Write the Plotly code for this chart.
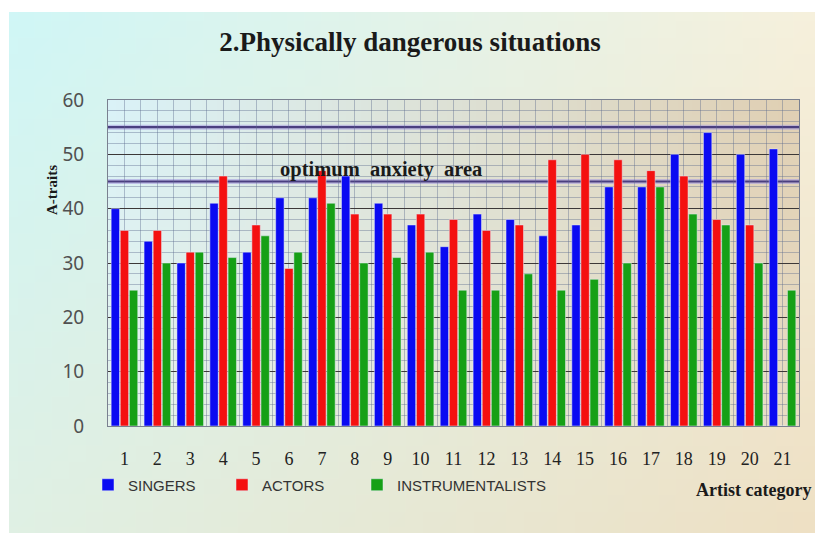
import base64, struct, zlib
import plotly.graph_objects as go

categories = list(range(1, 22))
singers = [40, 34, 30, 41, 32, 42, 42, 46, 41, 37, 33, 39, 38, 35, 37, 44, 44, 50, 54, 50, 51]
actors = [36, 36, 32, 46, 37, 29, 47, 39, 39, 39, 38, 36, 37, 49, 50, 49, 47, 46, 38, 37, 0]
instrumentalists = [25, 30, 32, 31, 35, 32, 41, 30, 31, 32, 25, 25, 28, 25, 27, 30, 44, 39, 37, 30, 25]
optimum_low, optimum_high = 45, 55

# page body has an 8px margin: figure pixel = screen pixel - 8
OFF = 8
W, H = 807, 525
L, R, T, B = 100, 16, 92, 107
PW, PH = W - L - R, H - T - B


def gradient_uri(w, h, tl, tr, bl, br):
    raw = bytearray()
    for j in range(h):
        raw.append(0)
        fy = j / (h - 1)
        for i in range(w):
            fx = i / (w - 1)
            for c in range(3):
                top = tl[c] * (1 - fx) + tr[c] * fx
                bot = bl[c] * (1 - fx) + br[c] * fx
                raw.append(int(round(top * (1 - fy) + bot * fy)))

    def chunk(tag, data):
        return struct.pack('>I', len(data)) + tag + data + struct.pack('>I', zlib.crc32(tag + data) & 0xffffffff)

    png = (b'\x89PNG\r\n\x1a\n' + chunk(b'IHDR', struct.pack('>IIBBBBB', w, h, 8, 2, 0, 0, 0))
           + chunk(b'IDAT', zlib.compress(bytes(raw))) + chunk(b'IEND', b''))
    return 'data:image/png;base64,' + base64.b64encode(png).decode()


def px_x(p):
    return (p - OFF - L) / PW


def px_y(p):
    return (H - B - (p - OFF)) / PH


page_img = gradient_uri(48, 32, (208, 246, 246), (246, 240, 220), (224, 240, 228), (238, 224, 196))
plot_img = gradient_uri(48, 32, (218, 242, 247), (224, 208, 180), (228, 242, 236), (232, 220, 196))

fig = go.Figure()
fig.add_trace(go.Bar(x=categories, y=singers, name='SINGERS', marker_color='#0a0af2',
                     legend='legend', showlegend=True))
fig.add_trace(go.Bar(x=categories, y=actors, name='ACTORS', marker_color='#f41010',
                     legend='legend2', showlegend=True))
fig.add_trace(go.Bar(x=categories, y=instrumentalists, name='INSTRUMENTALISTS', marker_color='#16a016',
                     legend='legend3', showlegend=True))

for v in (optimum_low, optimum_high):
    fig.add_shape(type='line', xref='paper', x0=0, x1=1, yref='y', y0=v, y1=v,
                  line=dict(color='rgba(170,160,225,0.6)', width=5), layer='between')
    fig.add_shape(type='line', xref='paper', x0=0, x1=1, yref='y', y0=v, y1=v,
                  line=dict(color='#4a3f80', width=2.2), layer='between')

grid_light = 'rgba(90,105,140,0.40)'
legend_font = dict(family='Liberation Sans, Arial, sans-serif', size=15, color='#333')


def legend_at(ref_left):
    return dict(orientation='h', x=px_x(ref_left), xanchor='left', y=px_y(485), yanchor='middle',
                bgcolor='rgba(0,0,0,0)', itemwidth=30, font=legend_font)


fig.update_layout(
    width=W, height=H,
    showlegend=True,
    margin=dict(l=L, r=R, t=T, b=B, autoexpand=False),
    paper_bgcolor='white',
    plot_bgcolor='rgba(0,0,0,0)',
    barmode='group', bargap=0.17, bargroupgap=0.08,
    images=[
        dict(source=page_img, xref='paper', yref='paper', x=px_x(9), y=px_y(12),
             sizex=(818 - 9) / PW, sizey=(535 - 12) / PH, sizing='stretch',
             xanchor='left', yanchor='top', layer='below'),
        dict(source=plot_img, xref='paper', yref='paper', x=0, y=1, sizex=1, sizey=1,
             sizing='stretch', xanchor='left', yanchor='top', layer='below'),
    ],
    title=dict(text='<b>2.Physically dangerous situations</b>', x=px_x(410), xref='paper',
               xanchor='center', y=1 - (42 - OFF) / H, yanchor='middle',
               font=dict(family='Liberation Serif, Times New Roman, serif', size=27, color='#1a1a1a')),
    xaxis=dict(range=[0.5, 21.5], tickvals=categories, ticktext=[str(c) for c in categories],
               showgrid=True, gridcolor=grid_light, gridwidth=1,
               minor=dict(tick0=0.5, dtick=1, showgrid=True, gridcolor=grid_light, gridwidth=1),
               ticks='', ticklabelstandoff=16, zeroline=False,
               showline=True, linecolor='#7a8090', linewidth=1, mirror=True,
               tickfont=dict(family='Liberation Serif, Times New Roman, serif', size=18, color='#222')),
    yaxis=dict(range=[0, 60], dtick=10, showgrid=True, gridcolor='#3c3838', gridwidth=1.4,
               minor=dict(dtick=2, showgrid=True, gridcolor=grid_light, gridwidth=1),
               ticks='', ticklabelstandoff=19, zeroline=False,
               showline=True, linecolor='#7a8090', linewidth=1, mirror=True,
               tickfont=dict(family='Noto Sans, Open Sans, sans-serif', size=19, color='#505050')),
    legend=legend_at(88),
    legend2=legend_at(222),
    legend3=legend_at(357),
    annotations=[
        dict(text='<b>optimum  anxiety  area</b>', xref='paper', yref='paper',
             x=px_x(278), y=px_y(169), xanchor='left', yanchor='middle', showarrow=False,
             font=dict(family='Liberation Serif, Times New Roman, serif', size=20.5, color='#1a1a1a')),
        dict(text='<b>A-traits</b>', xref='paper', yref='paper', x=px_x(52), y=px_y(190),
             xanchor='center', yanchor='middle', textangle=-90, showarrow=False,
             font=dict(family='Liberation Serif, Times New Roman, serif', size=15, color='#1a1a1a')),
        dict(text='<b>Artist category</b>', xref='paper', yref='paper', x=px_x(813), y=px_y(490),
             xanchor='right', yanchor='middle', showarrow=False,
             font=dict(family='Liberation Serif, Times New Roman, serif', size=18, color='#1a1a1a')),
    ],
)

fig.write_html('out.html')
